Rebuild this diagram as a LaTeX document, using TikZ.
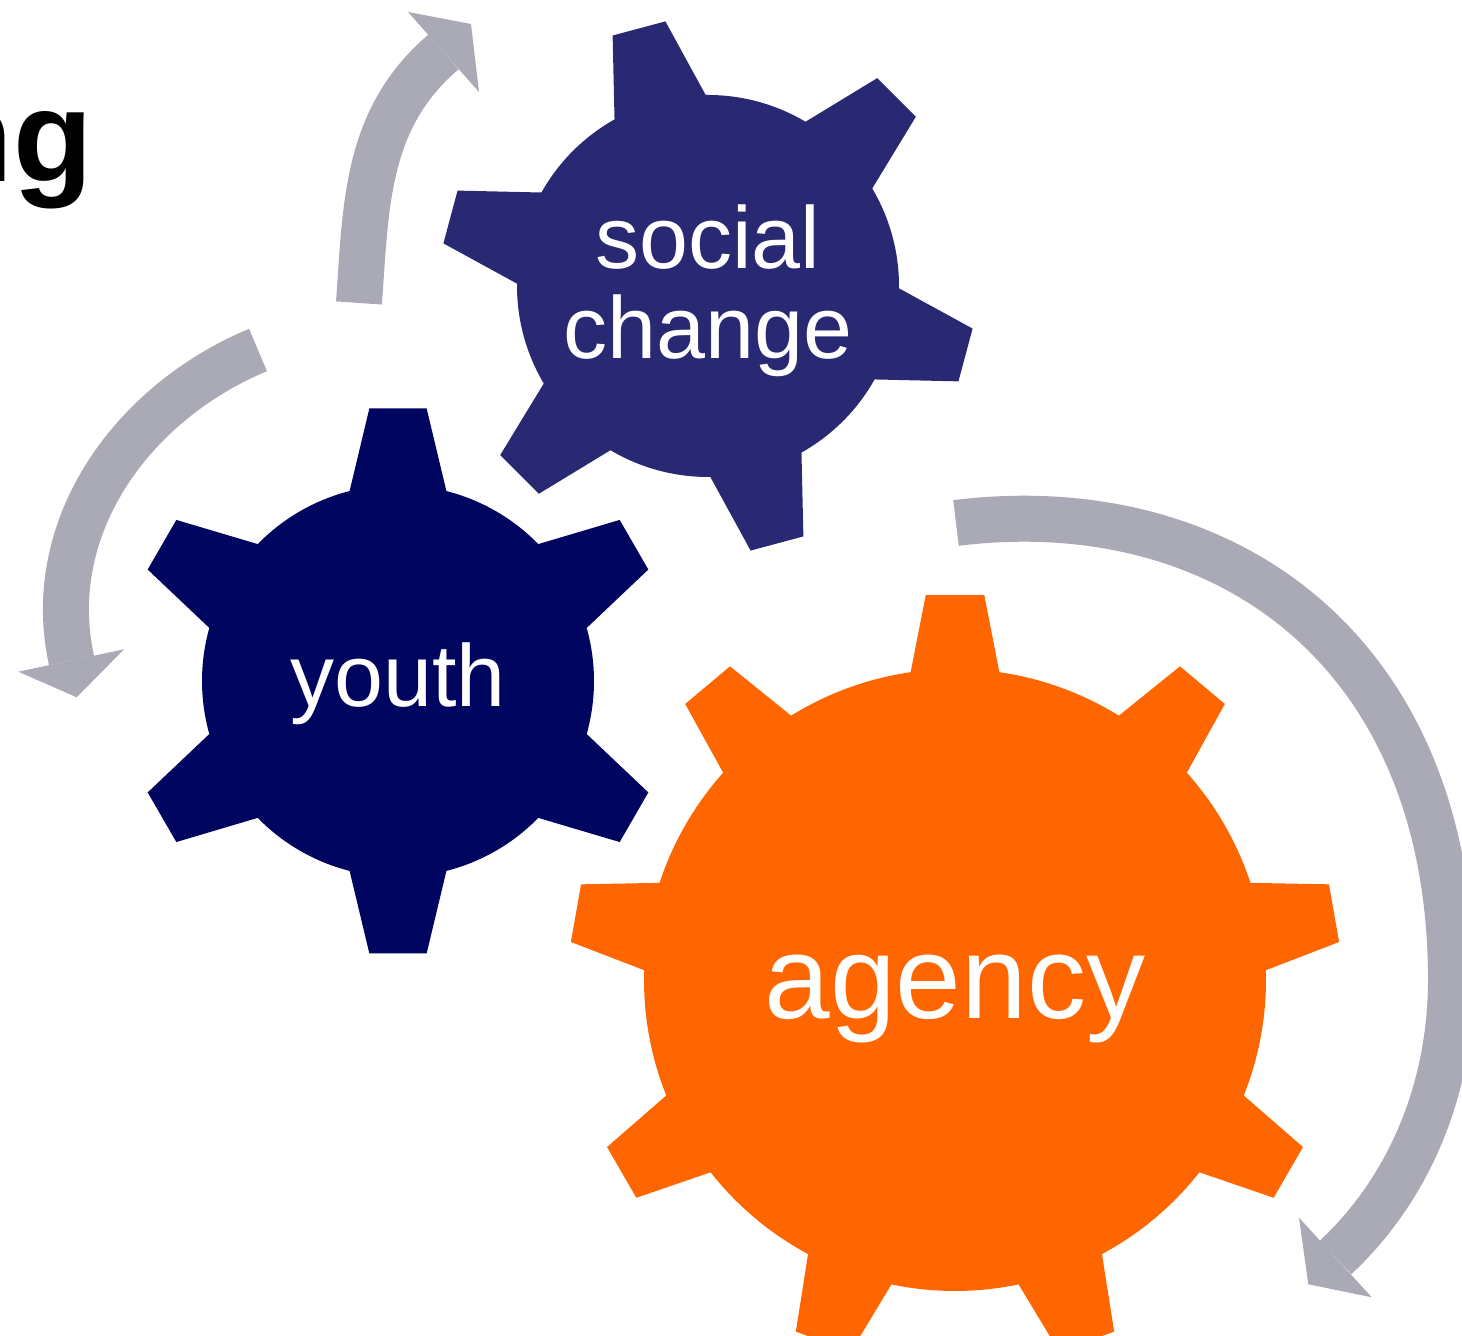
\documentclass[tikz,border=0pt]{standalone}
\usepackage{fontspec}
\setmainfont{Liberation Sans}

\definecolor{socialblue}{HTML}{292872}
\definecolor{youthblue}{HTML}{000560}
\definecolor{agencyorange}{HTML}{FF6600}
\definecolor{arrowgray}{HTML}{AAAAB6}

% gear: colour, centre, teeth, first tooth, tip radius, root radius, tip half angle, root half angle
\newcommand{\drawgear}[8]{%
  \fill[#1, shift={(#2)}] ({#4-#8}:#6)
    \foreach \k [evaluate=\k as \ang using #4+360/#3*(\k-1),
                 evaluate=\k as \sa using #4+360/#3*(\k-1)+#8,
                 evaluate=\k as \ea using #4+360/#3*\k-#8] in {1,...,#3} {
      -- ({\ang-#7}:#5) -- ({\ang+#7}:#5) -- (\sa:#6)
      arc[start angle=\sa, end angle=\ea, radius=#6]
    } -- cycle;}

\tikzset{
  cyc/.style={draw=arrowgray, line width=23pt},
  cychead/.style={fill=arrowgray},
  lbl/.style={text=white, inner sep=0pt, align=center, font=\fontsize{44}{45}\selectfont}
}

\begin{document}
\begin{tikzpicture}[x=0.5pt, y=0.5pt]
    \useasboundingbox (0,0) rectangle (1462,1336);
    \clip (0,0) rectangle (1462,1336);

    \coordinate (social) at (708,1050);
    \coordinate (youth) at (398,655);
    \coordinate (agency) at (955,356);

    % arrows
    \coordinate (upS) at (359,1033);
    \coordinate (upE) at (443.5,1284);
    \draw [cyc] (upS) .. controls (366,1133) and (366,1218) .. (upE);
    \fill [cychead] (408,1324) -- (471,1312) -- (479,1244) -- cycle;

    \coordinate (leftS) at (258,986);
    \coordinate (leftE) at (71.5,675.5);
    \draw [cyc] (leftS) .. controls (132,933.4) and (42.2,809.2) .. (leftE);
    \fill [cychead] (18.3,664.3) -- (76.7,638.7) -- (124,686.7) -- cycle;

    \coordinate (rightS) at (956,813);
    \coordinate (rightM) at (1451,356);
    \coordinate (rightE) at (1335.5,78.5);
    \draw [cyc] (rightS) .. controls (1222.6,846) and (1451,687) .. (rightM)
                .. controls (1451,251.7) and (1412.2,150.1) .. (rightE);
    \fill [cychead] (1299,118.3) -- (1308.3,51.7) -- (1371.7,38.7) -- cycle;

    % gears
    \drawgear{socialblue}{social}{6}{105}{268}{191}{5.85}{14.3}
    \drawgear{youthblue}{youth}{6}{90}{274}{196}{6}{14.3}
    \drawgear{agencyorange}{agency}{9}{90}{386}{311}{4.35}{8.2}

    \node [lbl] (soctxt) at ([yshift=-2.4pt]social) {social\\change};
    \node [lbl, anchor=base] (youthtxt) at ([yshift=-13pt]youth) {youth};
    \node [lbl, anchor=base, font=\fontsize{59}{60}\selectfont] (agencytxt) at ([yshift=-19.5pt]agency) {agency};

    %\node title, cut at the left edge
    \node [anchor=base east, inner sep=0pt, font=\bfseries\fontsize{65}{68}\selectfont] (title) at (93,1154.3) {ng};
\end{tikzpicture}
\end{document}
